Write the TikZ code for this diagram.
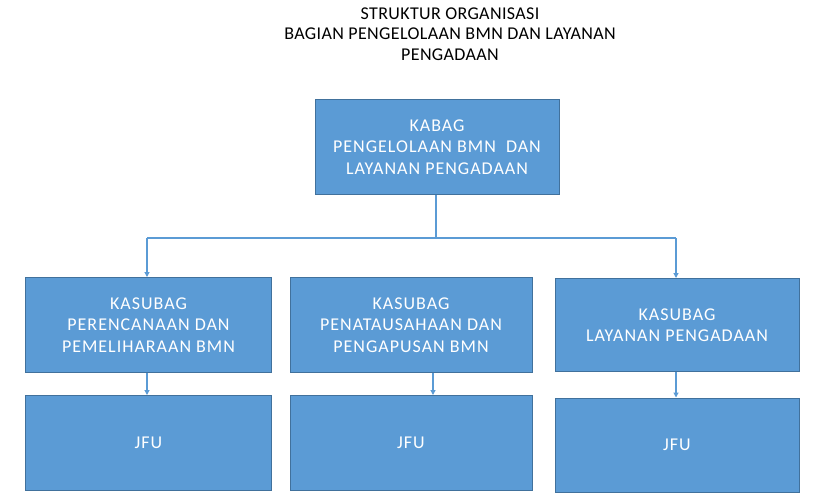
\documentclass[tikz,border=0pt]{standalone}
\usepackage{fontspec}
\setmainfont{Carlito}
\newfontfamily\boxfont[LetterSpace=5.5]{Carlito}
\newfontfamily\titlefont[LetterSpace=2]{Carlito}
\usetikzlibrary{arrows.meta}
\definecolor{boxfill}{HTML}{5B9BD5}
\definecolor{boxline}{HTML}{41719C}
\definecolor{conn}{HTML}{5B9BD5}
\begin{document}
\begin{tikzpicture}[x=1pt,y=-1pt,
  orgbox/.style={draw=boxline,line width=1pt,fill=boxfill,text=white,align=center,
    font=\boxfont\fontsize{18}{21.5}\selectfont,inner sep=0pt},
  conline/.style={draw=conn,line width=1.1pt},
  conarrow/.style={conline,-{Triangle[length=5pt,width=5pt]}}]
\useasboundingbox[fill=white] (0,0) rectangle (819,499);
\node[font=\titlefont\fontsize{18}{20.5}\selectfont,align=center] (title) at (450,34)
  {STRUKTUR ORGANISASI\\BAGIAN PENGELOLAAN BMN DAN LAYANAN\\PENGADAAN};
\node[orgbox,minimum width=244pt,minimum height=95pt] (kabag) at (437,147)
  {KABAG\\PENGELOLAAN BMN\ \ DAN\\LAYANAN PENGADAAN};
\node[orgbox,minimum width=246pt,minimum height=95pt] (k1) at (148.5,325)
  {KASUBAG\\PERENCANAAN DAN\\PEMELIHARAAN BMN};
\node[orgbox,minimum width=242pt,minimum height=95pt] (k2) at (411,325)
  {KASUBAG\\PENATAUSAHAAN DAN\\PENGAPUSAN BMN};
\node[orgbox,minimum width=244pt,minimum height=93pt] (k3) at (677,325)
  {KASUBAG\\LAYANAN PENGADAAN};
\node[orgbox,minimum width=246pt,minimum height=95pt] (j1) at (148.5,443) {JFU};
\node[orgbox,minimum width=242pt,minimum height=95pt] (j2) at (411,443) {JFU};
\node[orgbox,minimum width=244pt,minimum height=94pt] (j3) at (677,445) {JFU};
\coordinate (hl) at (147,238);
\coordinate (hr) at (676,238);
\draw[conline] (kabag.south -| 436,0) -- (436,238);
\draw[conline] (hl) -- (hr);
\draw[conarrow] (hl) -- (k1.north -| hl);
\draw[conarrow] (hr) -- (k3.north -| hr);
\draw[conarrow] (k1.south -| hl) -- (j1.north -| hl);
\draw[conarrow] (k2.south -| 433,0) -- (j2.north -| 433,0);
\draw[conarrow] (k3.south -| hr) -- (j3.north -| hr);
\end{tikzpicture}
\end{document}
